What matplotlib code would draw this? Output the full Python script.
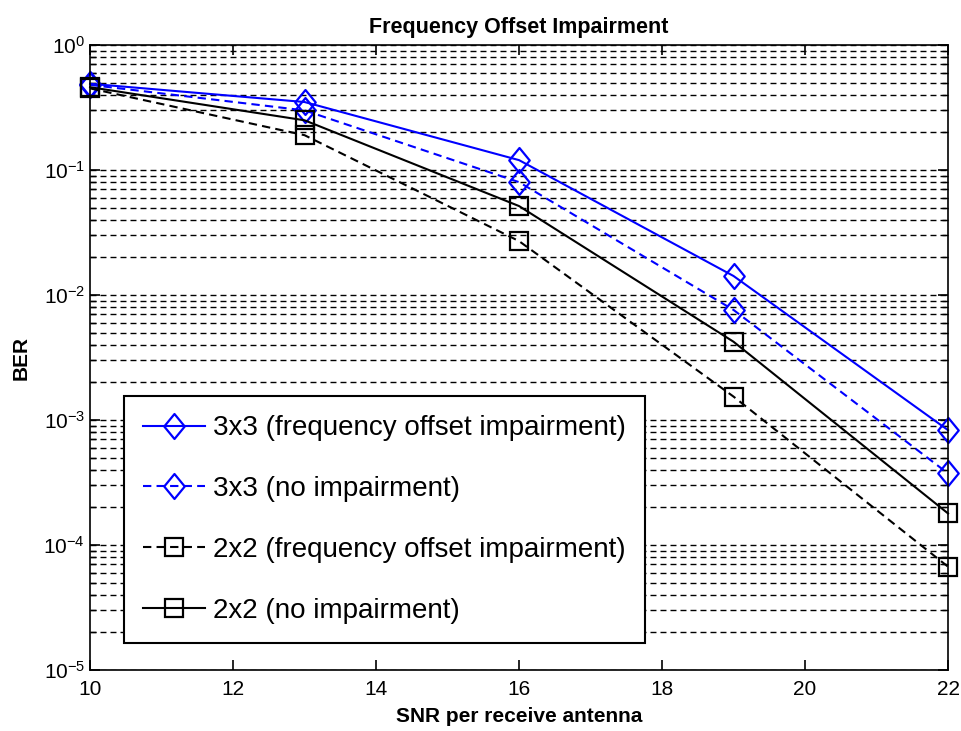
import matplotlib
matplotlib.use("Agg")
import matplotlib.pyplot as plt
from matplotlib.path import Path
from matplotlib.ticker import LogLocator, NullFormatter, FixedLocator

plt.rcParams['font.family'] = ['Liberation Sans', 'DejaVu Sans']
plt.rcParams['mathtext.fontset'] = 'custom'
plt.rcParams['mathtext.rm'] = 'Liberation Sans'
plt.rcParams['mathtext.it'] = 'Liberation Sans:italic'
plt.rcParams['mathtext.bf'] = 'Liberation Sans:bold'

snr = [10, 13, 16, 19, 22]
ber_3x3_freq = [0.49, 0.35, 0.120, 0.0142, 0.00083]
ber_3x3_none = [0.48, 0.30, 0.080, 0.0076, 0.000374]
ber_2x2_freq = [0.45, 0.19, 0.027, 0.00154, 0.0000671]
ber_2x2_none = [0.46, 0.25, 0.0515, 0.00423, 0.000179]

labels = ['3x3 (frequency offset impairment)', '3x3 (no impairment)',
          '2x2 (frequency offset impairment)', '2x2 (no impairment)']
xticks = [10, 12, 14, 16, 18, 20, 22]

# slightly tall diamond marker
tall_diamond = Path([(0, 1), (0.82, 0), (0, -1), (-0.82, 0), (0, 1)],
                    [Path.MOVETO, Path.LINETO, Path.LINETO, Path.LINETO, Path.CLOSEPOLY])

fig = plt.figure(figsize=(9.61, 7.31), dpi=100)
ax = fig.add_axes([0.0937, 0.0834, 0.8928, 0.855])

line = dict(markerfacecolor='none', markeredgewidth=1.6, linewidth=1.5, clip_on=False)
diamond = dict(marker=tall_diamond, markersize=18, **line)
square = dict(marker='s', markersize=13.2, **line)
dash = (0, (4, 2.5))
ax.semilogy(snr, ber_3x3_freq, linestyle='-', color='#0000ff', label=labels[0], **diamond)
ax.semilogy(snr, ber_3x3_none, linestyle=dash, color='#0000ff', label=labels[1], **diamond)
ax.semilogy(snr, ber_2x2_freq, linestyle=dash, color='black', label=labels[2], **square)
ax.semilogy(snr, ber_2x2_none, linestyle='-', color='black', label=labels[3], **square)

ax.set_xlim(10, 22)
ax.set_ylim(1e-5, 1)
ax.xaxis.set_major_locator(FixedLocator(xticks))
ax.yaxis.set_major_locator(LogLocator(base=10, numticks=10))
ax.yaxis.set_minor_locator(LogLocator(base=10, subs=range(2, 10), numticks=20))
ax.yaxis.set_minor_formatter(NullFormatter())

ax.yaxis.grid(True, which='both', linestyle=(0, (4.3, 2.9)), color='black', linewidth=1.0)
ax.xaxis.grid(False)
ax.set_axisbelow(True)

ax.tick_params(which='both', direction='in', top=True, right=True, labelsize=15)
ax.tick_params(axis='x', which='major', pad=7)
ax.tick_params(which='major', length=7, width=1.2)
ax.tick_params(which='minor', length=4, width=1.0)
for s in ax.spines.values():
    s.set_linewidth(1.2)

ax.set_title('Frequency Offset Impairment', fontsize=15.5, fontweight='bold', pad=9)
ax.set_xlabel('SNR per receive antenna', fontsize=15, fontweight='bold', labelpad=6)
ax.set_ylabel('BER', fontsize=15, fontweight='bold', labelpad=9)

leg = ax.legend(loc='lower left', bbox_to_anchor=(0.0396, 0.0432), borderaxespad=0,
                fontsize=20, numpoints=1, handlelength=2.2, labelspacing=1.25,
                borderpad=0.7, handletextpad=0.3, fancybox=False,
                framealpha=1, edgecolor='black')
leg.get_frame().set_linewidth(1.5)

fig.savefig('out.png', dpi=100)
